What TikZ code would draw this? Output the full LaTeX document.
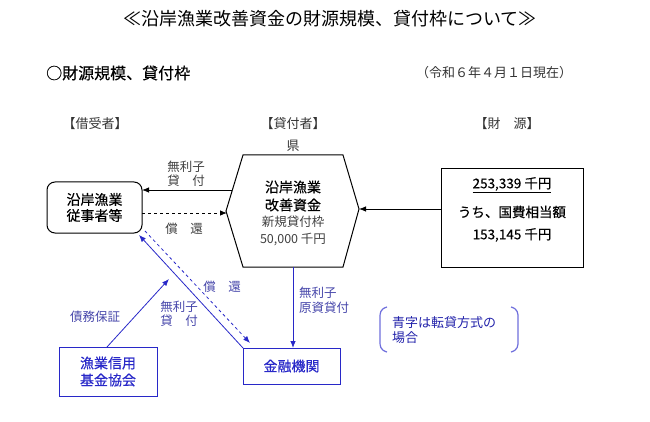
\documentclass[tikz,border=0pt]{standalone}
\usepackage{fontspec}
\setmainfont{Noto Sans CJK JP}
\newfontfamily\gothb[FakeBold=0.4]{Noto Sans CJK JP}
\usetikzlibrary{arrows.meta}
\definecolor{myblue}{RGB}{40,40,200}
\definecolor{labblue}{RGB}{70,70,170}
\definecolor{parblue}{RGB}{110,110,220}
\begin{document}
\begin{tikzpicture}[x=1pt,y=-1pt,
  font=\fontsize{13}{15}\selectfont,
  lab/.style={text=black!75,font=\fontsize{12.5}{14}\selectfont,inner sep=0pt},
  blab/.style={text=labblue,font=\fontsize{12.5}{14}\selectfont,inner sep=0pt},
  head/.style={text=black!80,font=\fontsize{13}{15}\selectfont,inner sep=0pt},
  bbox/.style={draw=myblue,line width=1pt,text=myblue,font=\gothb\fontsize{14}{17}\selectfont,align=center,inner sep=0pt},
  arr/.style={-{Latex[length=7pt,width=5.5pt]},line width=0.8pt},
]
\useasboundingbox (0,0) rectangle (650,422);

% title and headers
\node[inner sep=0pt] (title) at (330,19) {\fontsize{18}{20}\selectfont ≪沿岸漁業改善資金の財源規模、貸付枠について≫};
\node[anchor=west,inner sep=0pt] (sub) at (46,73) {\gothb\fontsize{16}{18}\selectfont ○財源規模、貸付枠};
\node[anchor=west,head] (date) at (416,73) {（令和６年４月１日現在）};
\node[head] (h1) at (95,124) {【借受者】};
\node[head] (h2) at (293,124) {【貸付者】};
\node[head] (h3) at (507,124) {【財　源】};
\node[head] (ken) at (293,146) {県};

% hexagon
\coordinate (v1) at (243,155);
\coordinate (v2) at (343,155);
\coordinate (v3) at (359,209);
\coordinate (v4) at (343,267);
\coordinate (v5) at (243,267);
\coordinate (v6) at (226,211);
\draw[line width=1pt] (v1) -- (v2) -- (v3) -- (v4) -- (v5) -- (v6) -- cycle;
\node[inner sep=0pt,font=\gothb\fontsize{14}{17}\selectfont] (hexa) at (293,187) {沿岸漁業};
\node[inner sep=0pt,font=\gothb\fontsize{14}{17}\selectfont] (hexb) at (293,205) {改善資金};
\node[lab] (hexc) at (293,222) {新規貸付枠};
\node[lab] (hexd) at (293,240) {50,000 千円};
\coordinate (hL1) at (232,190);
\coordinate (hL2) at (227,213);
\coordinate (hB) at (293,267);

% borrower box
\node[draw,line width=1pt,rounded corners=8pt,minimum width=95pt,minimum height=51pt,align=center,inner sep=0pt,font=\gothb\fontsize{14}{16}\selectfont] (bor) at (94.5,207.5) {沿岸漁業\\従事者等};
\coordinate (borR1) at (142,190);
\coordinate (borR2) at (142,213);
\coordinate (borC1) at (139,235);
\coordinate (borC2) at (145,231);

% source box
\node[draw,line width=1pt,minimum width=142pt,minimum height=98pt,inner sep=0pt] (src) at (512,218) {};
\node[inner sep=0pt,font=\gothb\fontsize{13.5}{15}\selectfont] (s1) at (512,185) {\underline{253,339 千円}};
\node[inner sep=0pt,font=\gothb\fontsize{13.5}{15}\selectfont] (s2) at (512,212) {うち、国費相当額};
\node[inner sep=0pt,font=\gothb\fontsize{13.5}{15}\selectfont] (s3) at (512,235) {153,145 千円};
\coordinate (srcW) at (441,209);

% black arrows
\draw[arr] (hL1) -- (borR1);
\draw[arr,dashed] (borR2) -- (hL2);
\draw[arr] (srcW) -- (v3);
\node[lab] (l1) at (186,167) {無利子};
\node[lab] (l2) at (186,181) {貸　付};
\node[lab] (l3) at (184,229) {償　還};

% blue boxes
\node[bbox,minimum width=98pt,minimum height=49pt] (kikin) at (108,371.5) {漁業信用\\基金協会};
\node[bbox,minimum width=97pt,minimum height=36pt] (kin) at (291.5,366) {金融機関};
\coordinate (kinTL) at (243,348);
\coordinate (kinD) at (250,343);
\coordinate (kinT) at (293,348);
\coordinate (kikinT) at (107,347);
\coordinate (guar) at (169,279);

\draw[arr,myblue] (hB) -- (kinT);
\draw[arr,myblue] (kinTL) -- (borC1);
\draw[arr,myblue,dashed] (borC2) -- (kinD);
\draw[arr,myblue] (kikinT) -- (guar);

\node[blab,anchor=west] (b1) at (299,293) {無利子};
\node[blab,anchor=west] (b2) at (299,308) {原資貸付};
\node[blab] (b3) at (95,317) {債務保証};
\node[blab] (b4) at (179,307) {無利子};
\node[blab] (b5) at (179,321) {貸　付};
\node[blab] (b6) at (222,287) {償　還};

% note in brackets
\coordinate (pL1) at (387,307);
\coordinate (pL2) at (387,352);
\coordinate (pR1) at (511,307);
\coordinate (pR2) at (511,352);
\draw[parblue,line width=1.2pt] (pL1) .. controls (380,309) and (380,313) .. (380,318) -- (380,341) .. controls (380,346) and (380,350) .. (pL2);
\draw[parblue,line width=1.2pt] (pR1) .. controls (518,309) and (518,313) .. (518,318) -- (518,341) .. controls (518,346) and (518,350) .. (pR2);
\node[blab,anchor=west,text=myblue!85!black,font=\fontsize{13}{15}\selectfont] (n1) at (392,323) {青字は転貸方式の};
\node[blab,anchor=west,text=myblue!85!black,font=\fontsize{13}{15}\selectfont] (n2) at (392,338) {場合};
\end{tikzpicture}
\end{document}
